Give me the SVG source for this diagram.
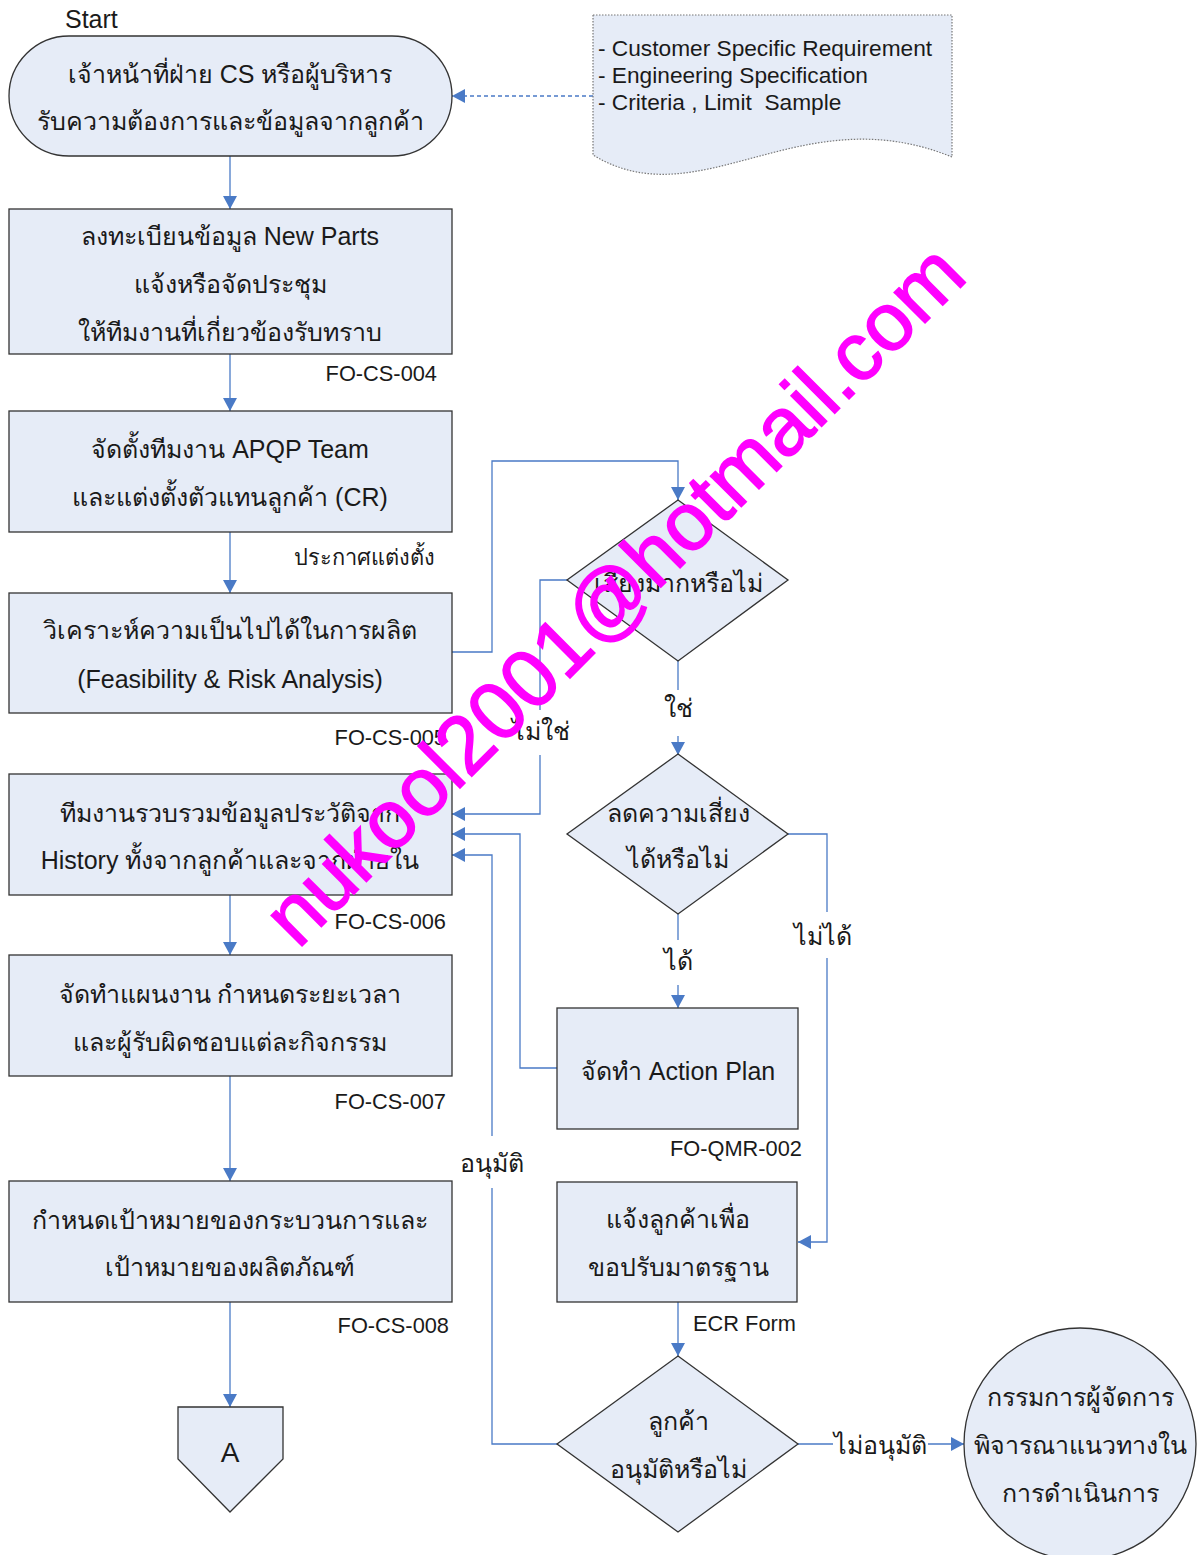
<svg xmlns="http://www.w3.org/2000/svg" width="1197" height="1555" viewBox="0 0 1197 1555">
<style>
.n{fill:#e6ecf7;stroke:#333;stroke-width:1.3}
.doc{fill:#e6ecf7;stroke:#777;stroke-width:1.2;stroke-dasharray:1.5 1.5}
.t{font-family:"Liberation Sans","Noto Sans","DejaVu Sans",sans-serif;font-size:25px;fill:#1a1a1a;text-anchor:middle}
.s{font-family:"Liberation Sans","Noto Sans","DejaVu Sans",sans-serif;font-size:21.8px;fill:#1a1a1a}
.l{font-family:"Liberation Sans","Noto Sans","DejaVu Sans",sans-serif;font-size:25px;fill:#1a1a1a;text-anchor:middle}
.e{text-anchor:end}
.m{text-anchor:middle}
.c{fill:none;stroke:#4a7ac6;stroke-width:1.3}
.w{font-family:"Liberation Sans",Arial,sans-serif;font-size:82px;fill:#ff00ff;stroke:#ff00ff;stroke-width:1.5}
</style>
<defs>
<marker id="ah" markerUnits="userSpaceOnUse" markerWidth="14" markerHeight="14" viewBox="0 0 14 14" refX="13" refY="7" orient="auto">
<path d="M0,0 L13,7 L0,14 Z" fill="#4a7ac6"/>
</marker>
</defs>
<rect width="1197" height="1555" fill="#fff"/>
<g id="connectors">
<path class="c" d="M230,156 V209" marker-end="url(#ah)"/>
<path class="c" d="M230,354 V411" marker-end="url(#ah)"/>
<path class="c" d="M230,532 V593" marker-end="url(#ah)"/>
<path class="c" d="M230,895 V955" marker-end="url(#ah)"/>
<path class="c" d="M230,1076 V1181" marker-end="url(#ah)"/>
<path class="c" d="M230,1302 V1407" marker-end="url(#ah)"/>
<path class="c" d="M593,96 H452" stroke-dasharray="4 3" marker-end="url(#ah)"/>
<path class="c" d="M452,652 H492 V461 H678 V500" marker-end="url(#ah)"/>
<path class="c" d="M567,580 H540 V710"/>
<path class="c" d="M540,755 V814 H452" marker-end="url(#ah)"/>
<path class="c" d="M678,661 V690"/>
<path class="c" d="M678,736 V755" marker-end="url(#ah)"/>
<path class="c" d="M678,914 V940"/>
<path class="c" d="M678,985 V1008" marker-end="url(#ah)"/>
<path class="c" d="M788,834 H827 V912"/>
<path class="c" d="M827,958 V1242 H798" marker-end="url(#ah)"/>
<path class="c" d="M557,1068 H520 V834 H452" marker-end="url(#ah)"/>
<path class="c" d="M678,1302 V1356" marker-end="url(#ah)"/>
<path class="c" d="M798,1444 H833"/>
<path class="c" d="M928,1444 H964" marker-end="url(#ah)"/>
<path class="c" d="M557,1444 H492 V1188"/>
<path class="c" d="M492,1136 V855 H452" marker-end="url(#ah)"/>
<text class="l" x="541" y="740">ไม่ใช่</text>
<text class="l" x="678" y="717">ใช่</text>
<text class="l" x="678" y="970">ได้</text>
<text class="l" x="823" y="945">ไม่ได้</text>
<text class="s" x="693" y="1331">ECR Form</text>
<text class="l" x="880" y="1454">ไม่อนุมัติ</text>
<text class="l" x="492" y="1172">อนุมัติ</text>
</g>
<g id="start">
<text class="s" x="65" y="28" style="font-size:25px">Start</text>
<rect class="n" x="9" y="36" width="443" height="120" rx="60" ry="60"/>
<text class="t" x="230" y="83">เจ้าหน้าที่ฝ่าย CS หรือผู้บริหาร</text>
<text class="t" x="230" y="130">รับความต้องการและข้อมูลจากลูกค้า</text>
</g>
<g id="doc">
<path class="doc" d="M593,15 H952 V157 C800,95 700,220 593,155 Z"/>
<text class="s" x="598" y="56" style="font-size:22.7px">- Customer Specific Requirement</text>
<text class="s" x="598" y="83" style="font-size:22.7px">- Engineering Specification</text>
<text class="s" x="598" y="110" style="font-size:22.7px">- Criteria , Limit &#160;Sample</text>
</g>
<g id="box1">
<rect class="n" x="9" y="209" width="443" height="145"/>
<text class="t" x="230" y="245">ลงทะเบียนข้อมูล New Parts</text>
<text class="t" x="230" y="293">แจ้งหรือจัดประชุม</text>
<text class="t" x="230" y="341">ให้ทีมงานที่เกี่ยวข้องรับทราบ</text>
<text class="s e" x="437" y="381">FO-CS-004</text>
</g>
<g id="box2">
<rect class="n" x="9" y="411" width="443" height="121"/>
<text class="t" x="230" y="458">จัดตั้งทีมงาน APQP Team</text>
<text class="t" x="230" y="506">และแต่งตั้งตัวแทนลูกค้า (CR)</text>
<text class="s e" x="435" y="565">ประกาศแต่งตั้ง</text>
</g>
<g id="box3">
<rect class="n" x="9" y="593" width="443" height="120"/>
<text class="t" x="230" y="639">วิเคราะห์ความเป็นไปได้ในการผลิต</text>
<text class="t" x="230" y="688">(Feasibility &amp; Risk Analysis)</text>
<text class="s e" x="446" y="745">FO-CS-005</text>
</g>
<g id="box4">
<rect class="n" x="9" y="774" width="443" height="121"/>
<text class="t" x="230" y="822">ทีมงานรวบรวมข้อมูลประวัติจาก</text>
<text class="t" x="230" y="869">History ทั้งจากลูกค้าและจากฝ่ายใน</text>
<text class="s e" x="446" y="929">FO-CS-006</text>
</g>
<g id="box5">
<rect class="n" x="9" y="955" width="443" height="121"/>
<text class="t" x="230" y="1003">จัดทำแผนงาน กำหนดระยะเวลา</text>
<text class="t" x="230" y="1051">และผู้รับผิดชอบแต่ละกิจกรรม</text>
<text class="s e" x="446" y="1109">FO-CS-007</text>
</g>
<g id="box6">
<rect class="n" x="9" y="1181" width="443" height="121"/>
<text class="t" x="230" y="1229">กำหนดเป้าหมายของกระบวนการและ</text>
<text class="t" x="230" y="1276">เป้าหมายของผลิตภัณฑ์</text>
<text class="s e" x="449" y="1333">FO-CS-008</text>
</g>
<g id="offpageA">
<path class="n" d="M178,1407 H283 V1459 L230,1512 L178,1459 Z"/>
<text class="t" x="230" y="1462" style="font-size:28px">A</text>
</g>
<g id="dec1">
<path class="n" d="M678,500 L788,580 L678,661 L567,580 Z"/>
<text class="t" x="678" y="592">เสี่ยงมากหรือไม่</text>
</g>
<g id="dec2">
<path class="n" d="M678,754 L788,834 L678,914 L567,834 Z"/>
<text class="t" x="678" y="822">ลดความเสี่ยง</text>
<text class="t" x="678" y="868">ได้หรือไม่</text>
</g>
<g id="box7">
<rect class="n" x="557" y="1008" width="241" height="121"/>
<text class="t" x="678" y="1080">จัดทำ Action Plan</text>
<text class="s e" x="802" y="1156">FO-QMR-002</text>
</g>
<g id="box8">
<rect class="n" x="557" y="1182" width="240" height="120"/>
<text class="t" x="678" y="1228">แจ้งลูกค้าเพื่อ</text>
<text class="t" x="678" y="1276">ขอปรับมาตรฐาน</text>
</g>
<g id="dec3">
<path class="n" d="M678,1356 L798,1444 L678,1532 L557,1444 Z"/>
<text class="t" x="678" y="1430">ลูกค้า</text>
<text class="t" x="678" y="1478">อนุมัติหรือไม่</text>
</g>
<g id="circle">
<circle class="n" cx="1080" cy="1444" r="116"/>
<text class="t" x="1080" y="1406">กรรมการผู้จัดการ</text>
<text class="t" x="1080" y="1454">พิจารณาแนวทางใน</text>
<text class="t" x="1080" y="1502">การดำเนินการ</text>
</g>
<text class="w" transform="translate(298,950) rotate(-45)">nukool2001@hotmail.com</text>
</svg>
